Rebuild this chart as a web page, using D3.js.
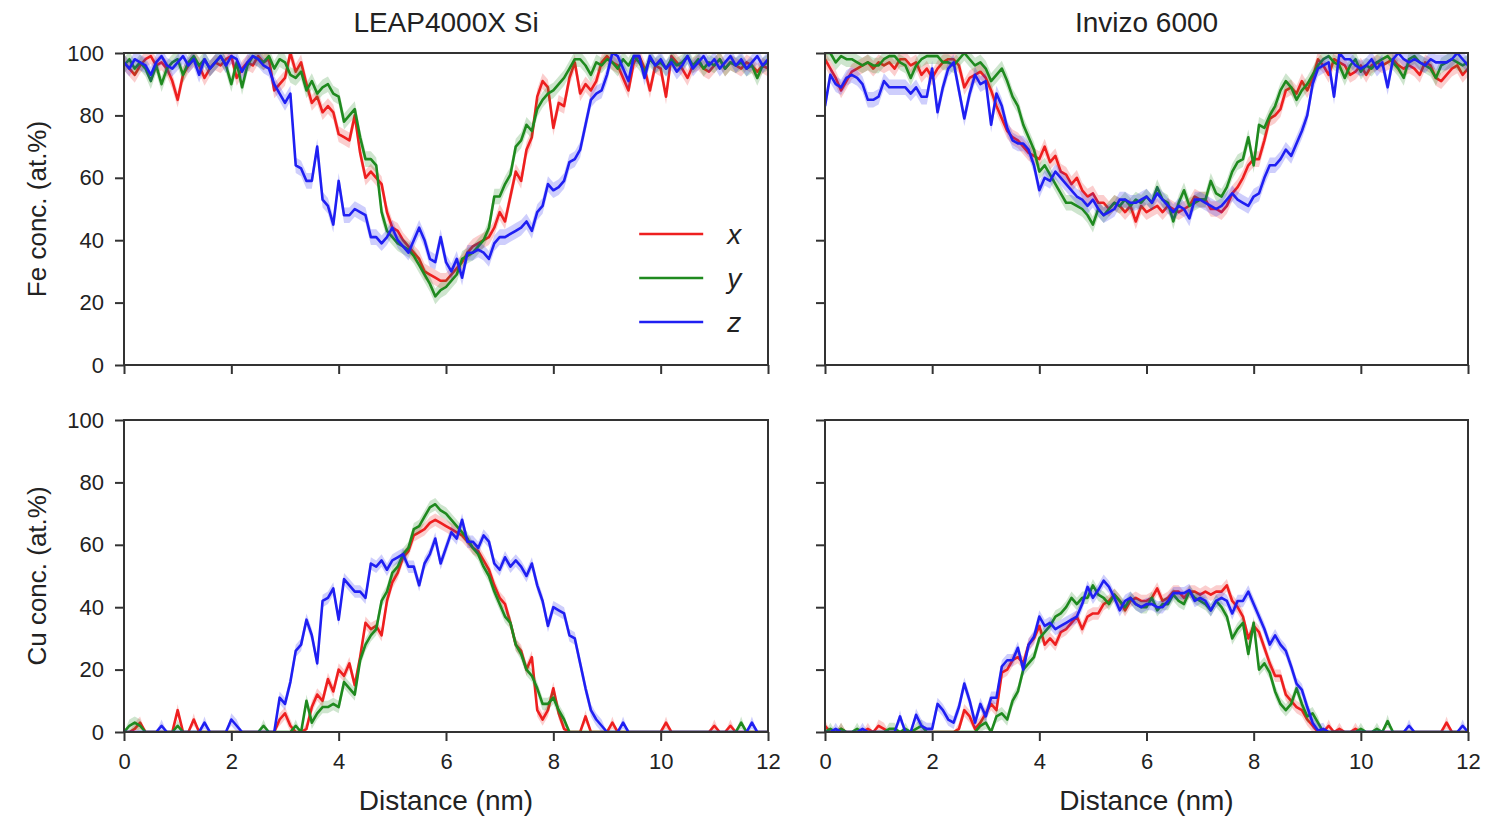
<!DOCTYPE html>
<html>
<head>
<meta charset="utf-8">
<script src="https://cdn.jsdelivr.net/npm/d3@7"></script>
<style>
  body { margin: 0; background: #fff; }
  text { font-family: "Liberation Sans", Arial, sans-serif; fill: #222; }
</style>
</head>
<body>
<svg id="chart"></svg>
<script>
const width = 1486;
const height = 816;

const instruments = ['LEAP4000X Si', 'Invizo 6000'];
const elements = ['Fe', 'Cu'];
const directions = ['x', 'y', 'z'];
const dirColors = ['#ee1f1f', '#1f8a1f', '#1f1ff2'];
const xTicks = [0, 2, 4, 6, 8, 10, 12];
const yTicks = [0, 20, 40, 60, 80, 100];
// distance grid, 0.1 nm bins
const distance = d3.range(121).map(i => i / 10);
// half width of the shaded band (at.%), Fe rows then Cu rows
const bandHalf = [2.5, 2];

// LEAP4000X Si, Fe
const leapFeX = [97,95,93,96,98,99,96,97,95,91, 85,93,96,98,96,92,95,97,96,98,
  99,92,95,97,96,99,97,98,88,90, 92,100,94,97,90,84,86,81,83,81, 74,73,72,80,68,60,62,60,58,49,
  44,43,40,38,36,34,30,29,28,27, 27,29,31,33,36,38,39,40,41,44, 49,46,54,62,59,69,73,86,91,89,
  76,84,83,92,97,87,90,88,91,97, 99,97,96,92,88,97,99,95,88,96, 95,86,99,97,95,92,96,97,95,94,
  96,98,95,97,96,95,97,96,94,96,95];
const leapFeY = [96,98,95,97,95,91,96,90,95,97, 98,93,97,99,96,98,95,97,99,96,
  90,97,89,96,99,98,97,99,95,98, 97,93,92,94,88,91,87,89,90,87, 86,78,80,82,73,66,66,64,49,43,
  41,39,38,37,35,32,29,26,22,24, 25,27,29,34,35,36,38,40,44,54, 54,58,61,70,72,77,75,82,85,87,
  88,90,92,95,98,98,96,93,97,96, 98,97,95,98,96,99,97,94,98,96, 97,95,98,96,97,99,96,98,95,97,
  96,98,95,97,96,97,95,96,92,96,97];
const leapFeZ = [97,95,98,97,96,93,97,99,96,95, 97,99,96,98,93,98,95,97,99,96,
  99,98,94,97,99,98,96,95,90,87, 84,87,64,63,59,59,70,53,51,45, 59,48,48,50,49,48,41,41,39,41,
  44,40,38,36,40,44,40,34,33,41, 33,30,34,28,36,36,37,36,34,39, 41,41,42,43,44,46,43,49,51,58,
  56,57,59,65,66,69,77,85,87,88, 93,100,99,95,91,99,99,92,99,96, 98,95,97,94,96,99,95,97,99,96,
  98,95,97,99,96,98,95,97,99,96,98];

// Invizo 6000, Fe
const invFeX = [98,95,92,88,91,94,95,96,97,95, 97,96,97,95,98,98,96,97,93,95,
  92,95,97,98,98,96,89,92,93,94, 92,88,83,79,75,73,72,70,68,67, 66,70,65,67,62,61,58,60,56,54,
  55,52,52,50,52,51,49,51,46,51, 49,50,51,49,51,50,49,50,51,54, 53,53,50,50,49,51,55,57,60,64,
  66,66,72,79,80,82,88,89,87,91, 88,92,98,96,93,98,97,96,93,94, 96,93,96,97,96,97,98,96,95,96,
  95,93,97,96,92,91,93,95,96,93,95];
const invFeY = [100,100,97,99,98,98,97,96,97,96, 96,98,99,99,97,96,92,96,98,99,
  99,99,97,97,96,98,100,98,96,97, 95,91,93,95,91,86,83,77,73,69, 62,64,61,58,55,52,52,51,50,48,
  45,50,48,50,52,51,53,51,53,52, 54,52,57,53,52,46,52,56,51,52, 53,53,59,55,54,57,62,65,66,73,
  64,77,76,80,83,88,91,89,85,88, 90,93,96,98,99,97,96,92,96,98, 94,96,95,97,98,99,97,95,92,98,
  99,97,96,95,92,96,97,98,97,96,97];
const invFeZ = [83,93,90,89,92,93,92,90,85,85, 86,91,89,89,89,89,87,89,86,86,
  95,81,89,95,97,88,79,87,93,90, 91,77,87,83,76,72,71,71,69,64, 56,60,59,62,60,58,56,54,53,51,
  53,50,48,49,50,53,53,52,52,53, 54,52,55,53,51,49,51,50,47,53, 53,52,51,50,51,53,55,53,52,51,
  54,55,60,64,64,66,69,67,71,75, 80,90,95,96,97,86,100,98,98,96, 95,96,98,95,97,89,98,100,98,97,
  98,97,96,98,97,97,97,98,100,98,96];

// LEAP4000X Si, Cu
const leapCuX = [0,0,1,3,0,0,0,0,0,0, 7,0,0,4,0,0,0,0,0,0,
  0,0,0,0,0,0,0,0,0,4, 6,2,0,0,1,8,12,10,17,13, 20,18,22,15,24,35,33,34,31,42,
  48,51,56,58,63,64,65,67,68,67, 66,65,64,63,61,59,58,55,52,47, 43,41,35,28,26,20,24,7,4,7,
  14,6,1,0,0,0,5,0,0,0, 0,3,0,0,0,0,0,0,0,0, 0,3,0,0,0,0,0,0,0,0,
  2,0,0,2,0,0,0,0,0,0,0];
const leapCuY = [0,2,3,2,0,0,0,0,0,0, 2,0,0,0,0,0,0,0,0,0,
  0,0,0,0,0,0,2,0,0,0, 0,0,2,0,10,3,6,8,8,9, 8,16,14,12,23,28,31,33,42,45,
  51,53,57,59,65,66,69,72,73,71, 70,68,66,64,62,59,57,53,50,45, 41,37,35,28,25,20,18,14,9,9,
  11,7,4,0,0,0,0,0,0,0, 0,0,0,0,0,0,0,0,0,0, 0,0,0,0,0,0,0,0,0,0,
  0,0,0,0,0,3,0,0,0,0,0];
const leapCuZ = [0,0,0,0,0,0,0,2,0,0, 0,0,0,0,0,3,0,0,0,0,
  4,2,0,0,0,0,0,0,0,11, 9,16,26,28,36,31,22,42,43,46, 36,49,47,45,45,43,54,53,55,52,
  55,56,57,53,53,47,54,57,62,54, 59,64,62,68,61,61,59,63,61,54, 52,56,53,55,53,50,54,47,42,34,
  40,39,38,31,30,22,14,7,4,2, 0,0,0,3,0,0,0,0,0,0, 0,0,0,0,0,0,0,0,0,0,
  0,0,0,0,0,0,0,3,0,0,0];

// Invizo 6000, Cu
const invCuX = [2,0,0,1,0,0,0,0,1,0, 2,1,0,0,0,0,0,0,0,0,
  0,0,0,0,0,1,7,5,1,3, 6,9,7,19,20,23,24,22,28,30, 34,28,30,28,32,33,35,37,33,37,
  38,38,41,42,44,42,39,42,43,42, 42,43,46,42,43,45,45,43,45,45, 44,45,44,45,45,47,42,40,37,30,
  34,32,27,22,18,18,12,10,8,7, 4,2,0,0,2,0,1,0,0,1, 0,0,0,0,0,0,0,0,0,0,
  0,0,0,0,0,0,3,0,0,0,0];
const invCuY = [0,1,0,1,0,0,1,0,0,0, 0,0,1,1,0,1,0,1,2,0,
  0,0,0,0,0,0,0,0,0,2, 3,0,5,6,4,10,13,20,22,24, 30,32,34,37,38,40,43,41,43,43,
  47,44,43,41,44,42,40,43,41,40, 40,43,39,41,41,44,42,41,45,43, 42,41,39,42,40,37,30,33,35,25,
  35,20,22,19,13,9,7,9,14,9, 5,6,3,0,0,0,0,0,0,0, 1,0,0,1,0,3.5,0,0,0,0,
  0,0,0,0,0,0,0,0,0,0,0];
const invCuZ = [0,0,1,0,0,0,0,1,0,0, 0,0,0,0,5,0,0,5.5,2,1,
  1,9,7,4,3,8,15.5,10,3,9, 5,11,11,21,23,23,27,20,28,30.5, 37,34,35,33,34,35,36,37,41,46.5,
  43,45.5,48.5,46.5,43,39,42,43,41,40, 41,41,40,40,42,44.5,44.5,44.5,45.5,42, 43,42,39,42,43,42,38,42,42,45,
  41,37,33,28,31,28,26,21,15.5,13.5, 8,3,0.5,1,0,0,0,0,0,0, 0,0,0,0,0,0,0,0,0,2,
  0,0,0,0,0,0,0,0,0,2,0];

const panels = [
  { col: 0, row: 0, series: [leapFeX, leapFeY, leapFeZ] },
  { col: 1, row: 0, series: [invFeX, invFeY, invFeZ] },
  { col: 0, row: 1, series: [leapCuX, leapCuY, leapCuZ] },
  { col: 1, row: 1, series: [invCuX, invCuY, invCuZ] },
];

// layout
const colLeft = [124, 825];
const colWidth = [644, 643];
const rowTop = [53, 420];
const rowHeight = 312;
const axisColor = '#333';

const svg = d3.select('#chart').attr('width', width).attr('height', height);

// column titles
instruments.forEach((name, c) => {
  svg.append('text')
    .attr('x', colLeft[c] + colWidth[c] / 2)
    .attr('y', 32)
    .attr('text-anchor', 'middle')
    .style('font-size', '28px')
    .text(name);
  svg.append('text')
    .attr('x', colLeft[c] + colWidth[c] / 2)
    .attr('y', 810)
    .attr('text-anchor', 'middle')
    .style('font-size', '28px')
    .text('Distance (nm)');
});

// row labels
elements.forEach((el, r) => {
  svg.append('text')
    .attr('transform', `translate(37, ${rowTop[r] + rowHeight / 2}) rotate(-90)`)
    .attr('text-anchor', 'middle')
    .attr('dy', '0.35em')
    .style('font-size', '26px')
    .text(`${el} conc. (at.%)`);
});

panels.forEach((p, k) => {
  const x = d3.scaleLinear().domain([0, 12]).range([0, colWidth[p.col]]);
  const y = d3.scaleLinear().domain([0, 100]).range([rowHeight, 0]);

  const g = svg.append('g')
    .attr('transform', `translate(${colLeft[p.col]}, ${rowTop[p.row]})`);

  const clipId = `clip-${k}`;
  g.append('clipPath').attr('id', clipId)
    .append('rect')
    .attr('width', colWidth[p.col])
    .attr('height', rowHeight);

  const plot = g.append('g').attr('clip-path', `url(#${clipId})`);
  const half = bandHalf[p.row];

  // no band where the profile sits at zero
  const area = d3.area()
    .x((d, i) => x(distance[i]))
    .y0(d => y(Math.max(0, d - half)))
    .y1(d => y(d > 0 ? d + half : 0));
  const line = d3.line()
    .x((d, i) => x(distance[i]))
    .y(d => y(d));

  p.series.forEach((vals, s) => {
    plot.append('path')
      .datum(vals)
      .attr('d', area)
      .attr('fill', dirColors[s])
      .attr('fill-opacity', 0.22);
    plot.append('path')
      .datum(vals)
      .attr('d', line)
      .attr('fill', 'none')
      .attr('stroke', dirColors[s])
      .attr('stroke-width', 2.6)
      .attr('stroke-linejoin', 'round');
  });

  // axes --------------------------------
  const yAxis = d3.axisLeft(y).tickValues(yTicks).tickSize(9).tickPadding(11);
  if (p.col === 1) yAxis.tickFormat('');
  const xAxis = d3.axisBottom(x).tickValues(xTicks).tickSize(9).tickPadding(12);
  if (p.row === 0) xAxis.tickFormat('');

  const ya = g.append('g').call(yAxis);
  const xa = g.append('g').attr('transform', `translate(0, ${rowHeight})`).call(xAxis);
  [ya, xa].forEach(a => {
    a.select('.domain').remove();
    a.selectAll('line').attr('stroke', axisColor).attr('stroke-width', 2);
    a.selectAll('text')
      .style('font-family', '"Liberation Sans", Arial, sans-serif')
      .style('font-size', '22px')
      .attr('fill', '#222');
  });

  // frame
  g.append('rect')
    .attr('width', colWidth[p.col])
    .attr('height', rowHeight)
    .attr('fill', 'none')
    .attr('stroke', axisColor)
    .attr('stroke-width', 2);

  // legend in the first panel
  if (k === 0) {
    const legend = g.append('g').attr('transform', `translate(${x(9.6)}, ${y(42)})`);
    directions.forEach((dname, s) => {
      const row = legend.append('g').attr('transform', `translate(0, ${s * 44})`);
      row.append('line')
        .attr('x1', 0).attr('x2', 64)
        .attr('stroke', dirColors[s])
        .attr('stroke-width', 2.6);
      row.append('text')
        .attr('x', 88)
        .attr('dy', '0.35em')
        .style('font-size', '28px')
        .style('font-style', 'italic')
        .text(dname);
    });
  }
});
</script>
</body>
</html>
